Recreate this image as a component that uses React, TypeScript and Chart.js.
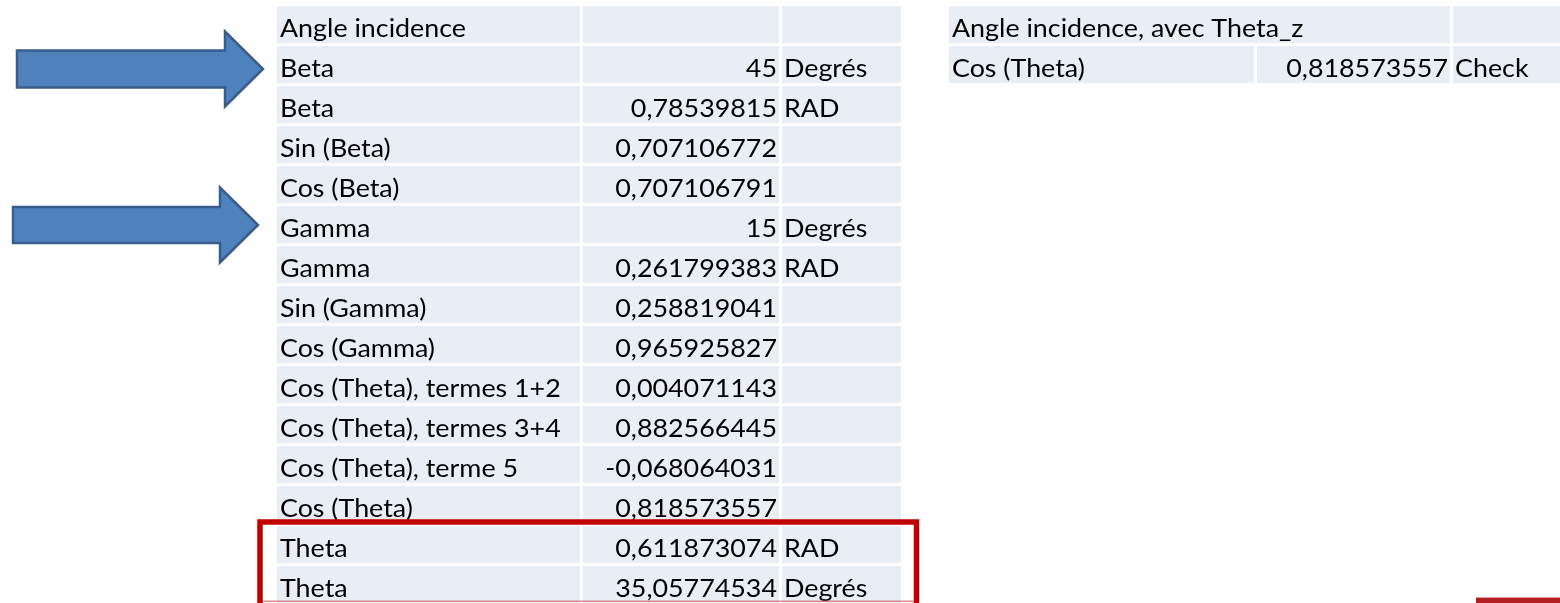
import { useEffect, useRef } from 'react';
import { Chart, registerables } from 'chart.js';

Chart.register(...registerables);

// ---- data ----
const leftTitle = 'Angle incidence';
const leftLabels = [
  'Beta', 'Beta', 'Sin (Beta)', 'Cos (Beta)', 'Gamma', 'Gamma', 'Sin (Gamma)', 'Cos (Gamma)',
  'Cos (Theta), termes 1+2', 'Cos (Theta), termes 3+4', 'Cos (Theta), terme 5', 'Cos (Theta)', 'Theta', 'Theta',
];
const leftValues = [
  '45', '0,78539815', '0,707106772', '0,707106791', '15', '0,261799383', '0,258819041', '0,965925827',
  '0,004071143', '0,882566445', '-0,068064031', '0,818573557', '0,611873074', '35,05774534',
];
const leftUnits = ['Degrés', 'RAD', '', '', 'Degrés', 'RAD', '', '', '', '', '', '', 'RAD', 'Degrés'];

const rightTitle = 'Angle incidence, avec Theta_z';
const rightLabels = ['Cos (Theta)'];
const rightValues = ['0,818573557'];
const rightUnits = ['Check'];

const arrowRows = [1, 5];
const highlightRows = [13, 14];

// ---- layout ----
const W = 1560;
const H = 603;
const ROW_TOP = 6;
const ROW_PITCH = 40;
const ROW_H = 37;
const LEFT_COLS = [[277, 580], [583, 779], [782, 901]];
const RIGHT_COLS = [[949, 1254], [1257, 1450], [1453, 1560]];
const CELL_BG = '#E9EDF4';
const FONT_FAMILY = 'Lato, "Noto Sans", sans-serif';
const FONT_SIZE = 25.5;
const TARGET_TITLE_W = 186;

const arrowGeom = [
  { x0: 17, bodyHalf: 18.5, headX: 225, headHalf: 37.5, tipX: 263, dy: 4.5 },
  { x0: 13, bodyHalf: 18, headX: 220, headHalf: 37.5, tipX: 258, dy: 0.5 },
];

const tablePlugin = {
  id: 'tablePlugin',
  afterDraw(chart: any) {
    const ctx = chart.ctx as CanvasRenderingContext2D;
    const xs = chart.scales.x;
    const ys = chart.scales.y;
    const px = (v: number) => xs.getPixelForValue(v);
    const py = (v: number) => ys.getPixelForValue(v);
    const rowTop = (r: number) => ROW_TOP + r * ROW_PITCH;

    ctx.save();
    ctx.font = `${FONT_SIZE}px ${FONT_FAMILY}`;
    const sx = TARGET_TITLE_W / ctx.measureText(leftTitle).width;

    const cell = (c0: number, c1: number, r: number) => {
      const t = rowTop(r);
      const b = Math.min(t + ROW_H, H);
      ctx.fillStyle = CELL_BG;
      ctx.fillRect(px(c0), py(t), px(c1) - px(c0), py(b) - py(t));
    };
    const text = (s: string, x: number, r: number, align: 'left' | 'right') => {
      if (!s) return;
      const base = rowTop(r) + 31;
      ctx.save();
      ctx.translate(px(x), py(base));
      ctx.scale(sx, 1);
      ctx.fillStyle = '#000';
      ctx.textBaseline = 'alphabetic';
      ctx.textAlign = align;
      ctx.fillText(s, 0, 0);
      ctx.restore();
    };

    // left table
    const nRows = leftLabels.length + 1;
    for (let r = 0; r < nRows; r++) {
      LEFT_COLS.forEach(([a, b]) => cell(a, b, r));
    }
    text(leftTitle, LEFT_COLS[0][0] + 3, 0, 'left');
    leftLabels.forEach((s, i) => {
      text(s, LEFT_COLS[0][0] + 3, i + 1, 'left');
      text(leftValues[i], LEFT_COLS[1][1] - 2, i + 1, 'right');
      text(leftUnits[i], LEFT_COLS[2][0] + 2, i + 1, 'left');
    });

    // right table
    cell(RIGHT_COLS[0][0], RIGHT_COLS[1][1], 0);
    cell(RIGHT_COLS[2][0], RIGHT_COLS[2][1], 0);
    text(rightTitle, RIGHT_COLS[0][0] + 3, 0, 'left');
    rightLabels.forEach((s, i) => {
      RIGHT_COLS.forEach(([a, b]) => cell(a, b, i + 1));
      text(s, RIGHT_COLS[0][0] + 3, i + 1, 'left');
      text(rightValues[i], RIGHT_COLS[1][1] - 2, i + 1, 'right');
      text(rightUnits[i], RIGHT_COLS[2][0] + 2, i + 1, 'left');
    });

    // arrows
    arrowRows.forEach((r, k) => {
      const g = arrowGeom[k];
      const cy = rowTop(r) + ROW_H / 2 + g.dy;
      ctx.beginPath();
      ctx.moveTo(px(g.x0), py(cy - g.bodyHalf));
      ctx.lineTo(px(g.headX), py(cy - g.bodyHalf));
      ctx.lineTo(px(g.headX), py(cy - g.headHalf));
      ctx.lineTo(px(g.tipX), py(cy));
      ctx.lineTo(px(g.headX), py(cy + g.headHalf));
      ctx.lineTo(px(g.headX), py(cy + g.bodyHalf));
      ctx.lineTo(px(g.x0), py(cy + g.bodyHalf));
      ctx.closePath();
      ctx.fillStyle = '#4F81BD';
      ctx.fill();
      ctx.strokeStyle = '#385D8A';
      ctx.lineWidth = 2.5;
      ctx.lineJoin = 'miter';
      ctx.stroke();
    });

    // red highlight rectangle
    const hTop = rowTop(highlightRows[0]) - 4;
    ctx.strokeStyle = '#C00000';
    ctx.lineWidth = 5.5;
    ctx.strokeRect(px(260), py(hTop), px(916.5) - px(260), py(H + 5) - py(hTop));
    ctx.fillStyle = 'rgba(214, 90, 90, 0.7)';
    ctx.fillRect(px(263), py(600.5), px(914) - px(263), 1.5);

    // bottom-right red bar
    ctx.fillStyle = '#B41F24';
    ctx.fillRect(px(1476), py(598), px(1560) - px(1476), py(603) - py(598));
    ctx.fillStyle = '#E09A9A';
    ctx.fillRect(px(1476), py(597), px(1560) - px(1476), 1);

    ctx.restore();
  },
};

export default function App() {
  const ref = useRef<HTMLCanvasElement | null>(null);
  useEffect(() => {
    document.body.style.margin = '0';
    document.body.style.overflow = 'hidden';
    const chart = new Chart(ref.current as HTMLCanvasElement, {
      type: 'scatter',
      data: { datasets: [{ data: [], pointRadius: 0 }] },
      options: {
        animation: false,
        responsive: true,
        maintainAspectRatio: false,
        layout: { padding: 0 },
        events: [],
        plugins: { legend: { display: false }, tooltip: { enabled: false }, title: { display: false } },
        scales: {
          x: { type: 'linear', min: 0, max: W, display: false },
          y: { type: 'linear', min: 0, max: H, reverse: true, display: false },
        },
      },
      plugins: [tablePlugin],
    });
    return () => chart.destroy();
  }, []);
  return (
    <div style={{ position: 'fixed', left: 0, top: 0, width: W, height: H, background: '#fff' }}>
      <canvas ref={ref} />
    </div>
  );
}
